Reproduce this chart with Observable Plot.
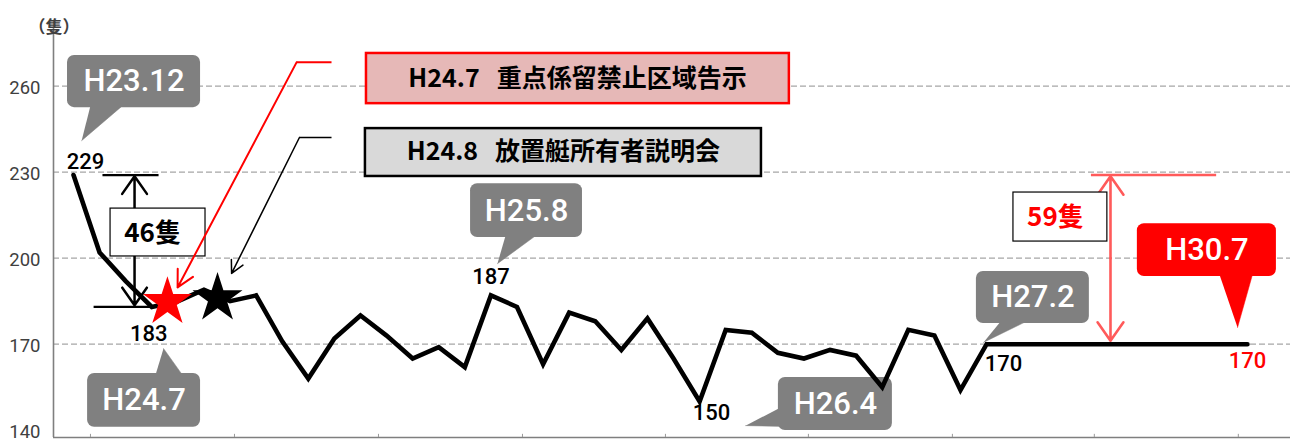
<!DOCTYPE html>
<html><head><meta charset="utf-8">
<script src="https://cdn.jsdelivr.net/npm/d3@7"></script>
<script src="https://cdn.jsdelivr.net/npm/@observablehq/plot@0.6"></script>
<style>
html,body{margin:0;padding:0;background:#fff;}
#chart svg{display:block;}
</style></head><body><div id="chart"></div>
<script>
// ---- data: survey order (position along the x axis) and boat counts (隻)
const idx    = [0,1,2,3,4,5,6,7,8,9,10,11,12,13,14,15,16,17,18,19,20,21,22,23,24,25,26,27,28,29,30,31,32,33,34,35,45];
const counts = [229,202,192,183,185,189,185,187,171,158,172,180,173,165,169,162,187,183,163,181,178,168,179,165,150,175,174,167,165,168,166,155,175,173,154,170,170];

// labelled points (by position) and their period labels
const labelIdx     = [0, 3, 16, 24, 35, 45];
const periodLabels = ["H23.12", "H24.7", "H25.8", "H26.4", "H27.2", "H30.7"];

// axis ticks
const yTicks = [140, 170, 200, 230, 260];
const gridTicks = [170, 200, 230, 260];
const xTickMarks = [0.65, 6.17, 11.69, 17.21, 22.69, 28.17, 33.69, 39.13, 44.65];

// event texts
const eventTexts = ["H24.7\u00a0\u00a0\u00a0重点係留禁止区域告示", "H24.8\u00a0\u00a0\u00a0放置艇所有者説明会"];
const diffTexts = ["46隻", "59隻"];
const yUnit = "（隻）";

// ---- build tables
const series = idx.map((i, k) => ({i, v: counts[k]}));
const valueOf = i => counts[idx.indexOf(i)];

// ---- scale setup
const X0 = -0.767, X1 = 46.65, Y0 = 137.46, Y1 = 280.46;

// ---- annotation geometry (data units)
const calloutGeo = [
  {x1:-0.23, x2:4.87,  y1:252.5, y2:270.7, fill:"#808080", tail:[[0.65,253.2],[1.88,253.2],[0.31,241.0]]},
  {x1:0.54,  x2:4.87,  y1:141.0, y2:159.8, fill:"#808080", tail:[[3.14,159.2],[4.18,159.2],[3.45,168.5]]},
  {x1:15.22, x2:19.51, y1:207.2, y2:226.0, fill:"#808080", tail:[[16.56,207.8],[17.71,207.8],[16.25,198.1]]},
  {x1:27.02, x2:31.39, y1:139.9, y2:158.4, fill:"#808080", tail:[[27.25,148.6],[27.25,141.3],[25.76,141.6]]},
  {x1:34.61, x2:38.94, y1:177.2, y2:195.4, fill:"#808080", tail:[[35.53,177.8],[36.49,177.8],[34.88,170.6]]},
  {x1:40.78, x2:46.11, y1:193.6, y2:212.0, fill:"#ff0000", tail:[[43.93,194.2],[45.19,194.2],[44.62,175.8]]}
];
const callouts = calloutGeo.map((g, k) => ({...g, text: periodLabels[k]}));

const events = [
  {x1:11.23, x2:27.44, y1:253.9, y2:271.4, fill:"#e6b8b7", stroke:"#ff0000", text:eventTexts[0], tx:19.32, ty:262.6},
  {x1:11.19, x2:26.37, y1:228.5, y2:245.2, fill:"#d9d9d9", stroke:"#000000", text:eventTexts[1], tx:18.78, ty:236.9}
];

const labelOffsets = [[12,-13],[-3,27],[0,-19],[12,11],[17,20],[0,17]];
const labelColors = ["#000","#000","#000","#000","#000","#ff0000"];
const valueLabels = labelIdx.map((i, k) => ({i, v: valueOf(i), dx: labelOffsets[k][0], dy: labelOffsets[k][1], c: labelColors[k]}));

const marks = [
  // gridlines
  Plot.ruleY(gridTicks, {stroke:"#a6a6a6", strokeWidth:1.2, strokeDasharray:"6,3"}),
  // axes lines
  Plot.ruleX([X0], {y1:Y0, y2:Y1, stroke:"#7f7f7f", strokeWidth:1.6}),
  Plot.ruleY([Y0], {stroke:"#7f7f7f", strokeWidth:1.6}),
  Plot.ruleX(xTickMarks, {y1:Y0, y2:Y0 + 1.1, stroke:"#9a9a9a", strokeWidth:1}),
  Plot.axisY({ticks:yTicks, tickSize:0, tickPadding:13, fontSize:18.5, label:null, color:"#404040", dy:2, fontFamily:"Roboto"}),
  Plot.text([yUnit], {frameAnchor:"top-left", text:d=>d, dx:-25, dy:-7, fontSize:17, fontWeight:"bold", fill:"#404040", fontFamily:"Noto Sans CJK JP"}),

  // 46 bracket
  Plot.link([{x1:1.11, x2:3.26, y:229}, {x1:0.77, x2:2.95, y:183}], {x1:"x1", x2:"x2", y1:"y", y2:"y", stroke:"#000", strokeWidth:2.2}),
  Plot.arrow([{y1:206, y2:228.6}, {y1:206, y2:183.6}], {x1:2.34, x2:2.34, y1:"y1", y2:"y2", stroke:"#000", strokeWidth:2.5, headLength:13, headAngle:70}),
  Plot.rect([{}], {x1:1.42, x2:5.06, y1:200.6, y2:217.3, fill:"#fff", stroke:"#000", strokeWidth:1.2}),
  Plot.text([diffTexts[0]], {x:3.03, y:208.7, text:d=>d, fontSize:26, fontWeight:"bold", fill:"#000", fontFamily:"Noto Sans CJK JP"}),

  // 59 bracket
  Plot.link([{x1:39.0, x2:43.8, y:229}], {x1:"x1", x2:"x2", y1:"y", y2:"y", stroke:"#ff5a5a", strokeWidth:2.5}),
  Plot.arrow([{y1:200, y2:228.6}, {y1:200, y2:171.2}], {x1:39.75, x2:39.75, y1:"y1", y2:"y2", stroke:"#ff5a5a", strokeWidth:2.6, headLength:13, headAngle:70}),
  Plot.rect([{}], {x1:36.03, x2:39.63, y1:205.8, y2:222.9, fill:"#fff", stroke:"#000", strokeWidth:1.2}),
  Plot.text([diffTexts[1]], {x:37.64, y:214.2, text:d=>d, fontSize:26, fontWeight:"bold", fill:"#ff0000", fontFamily:"Noto Sans CJK JP"}),

  // connectors from event boxes
  Plot.link([{x1:9.89, x2:8.55, y:268.3}], {x1:"x1", x2:"x2", y1:"y", y2:"y", stroke:"#ff0000", strokeWidth:2}),
  Plot.arrow([{}], {x1:8.55, y1:268.3, x2:3.99, y2:189.8, stroke:"#ff0000", strokeWidth:2, headLength:14, headAngle:55}),
  Plot.link([{x1:9.89, x2:8.66, y:242.1}], {x1:"x1", x2:"x2", y1:"y", y2:"y", stroke:"#000", strokeWidth:1.5}),
  Plot.arrow([{}], {x1:8.66, y1:242.1, x2:6.06, y2:194.7, stroke:"#000", strokeWidth:1.5, headLength:14, headAngle:55})
];

// callouts (drawn beneath the series line)
for (const c of callouts) {
  marks.push(Plot.line(c.tail, {x:p=>p[0], y:p=>p[1], fill:c.fill, stroke:c.fill, strokeWidth:0.5}));
}
marks.push(Plot.rect(callouts, {x1:"x1", x2:"x2", y1:"y1", y2:"y2", fill:d=>d.fill, rx:7, ry:7}));
marks.push(Plot.text(callouts, {x:d=>(d.x1+d.x2)/2, y:d=>(d.y1+d.y2)/2, text:"text", fill:"#fff", fontSize:31, fontWeight:500, fontFamily:"Roboto"}));

// main series
marks.push(Plot.line(series, {x:"i", y:"v", stroke:"#000", strokeWidth:4.6, strokeLinejoin:"miter", strokeMiterlimit:2.5}));

// stars
marks.push(Plot.dot([{x:3.60, y:184.7}], {x:"x", y:"y", symbol:"star", r:15.4, fill:"#ff0000", stroke:"none"}));
marks.push(Plot.dot([{x:5.52, y:186.0}], {x:"x", y:"y", symbol:"star", r:15.7, fill:"#000", stroke:"none"}));

// event boxes
marks.push(Plot.rect(events, {x1:"x1", x2:"x2", y1:"y1", y2:"y2", fill:d=>d.fill, stroke:d=>d.stroke, strokeWidth:2.5}));
marks.push(Plot.text(events, {x:"tx", y:"ty", text:"text", fontSize:25, fontWeight:"bold", fill:"#000", fontFamily:"Noto Sans CJK JP"}));

// value labels
for (const d of valueLabels) {
  marks.push(Plot.text([d], {x:"i", y:"v", text:e=>String(e.v), dx:d.dx, dy:d.dy, fill:d.c, fontSize:22, fontWeight:500, fontFamily:"Roboto"}));
}

const chart = Plot.plot({
  width: 1297,
  height: 443,
  marginLeft: 53,
  marginRight: 7,
  marginTop: 27,
  marginBottom: 6,
  x: {type:"linear", domain:[X0, X1], axis:null},
  y: {type:"linear", domain:[Y0, Y1], axis:null},
  color: {type:"identity"},
  style: {background:"#fff", fontFamily:"Roboto, 'Noto Sans CJK JP', sans-serif", overflow:"visible"},
  marks
});
document.getElementById("chart").appendChild(chart);
</script>
</body></html>
